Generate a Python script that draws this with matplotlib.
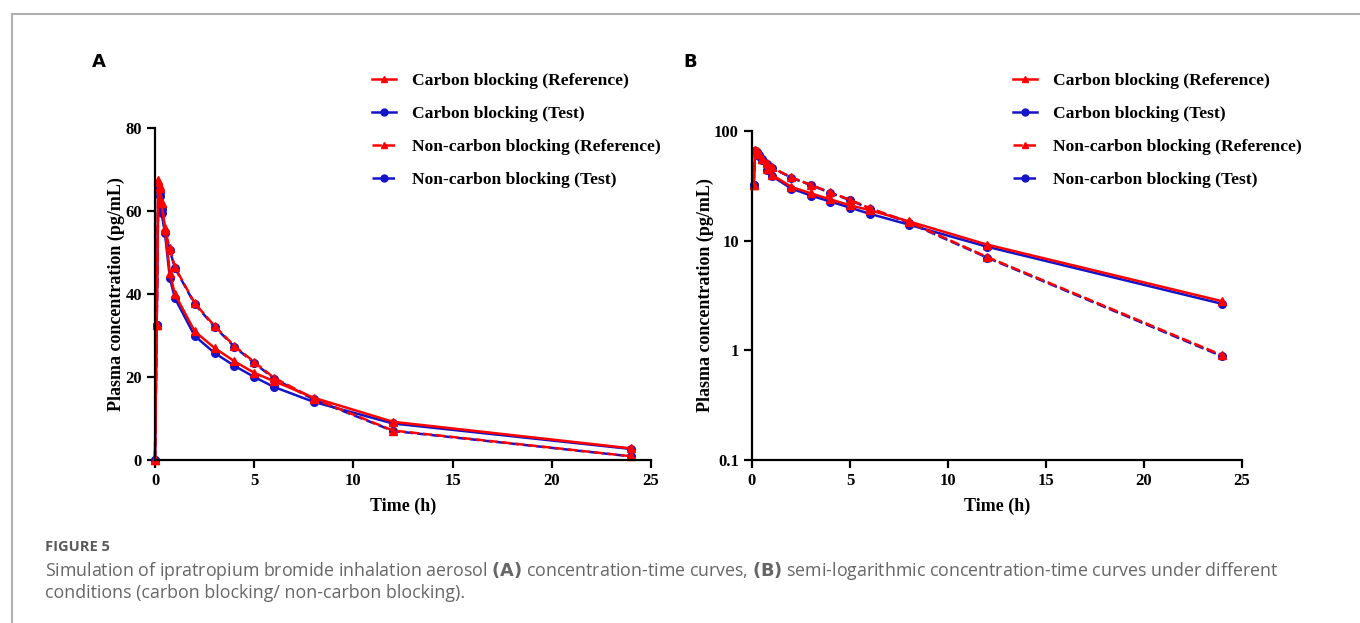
import matplotlib
matplotlib.use("Agg")
import matplotlib.pyplot as plt
from matplotlib.lines import Line2D

# 시간 (h)
time_h = [0, 0.083, 0.167, 0.25, 0.333, 0.5, 0.75, 1, 2, 3, 4, 5, 6, 8, 12, 24]

# 농도 (pg/mL)
cb_ref = [0, 32.5, 67.5, 66.0, 62.0, 56.0, 45.0, 40.0, 31.0, 27.0, 23.8, 21.0, 19.0, 15.0, 9.2, 2.8]
cb_test = [0, 32.5, 66.0, 63.5, 59.5, 54.7, 43.8, 39.0, 29.9, 25.8, 22.7, 20.0, 17.6, 14.0, 8.8, 2.65]
ncb_ref = [0, 32.5, 67.0, 65.5, 62.0, 55.5, 51.0, 46.5, 37.8, 32.3, 27.5, 23.6, 19.8, 14.8, 7.1, 0.9]
ncb_test = [0, 32.5, 66.0, 64.5, 60.5, 55.0, 50.5, 46.3, 37.6, 32.1, 27.3, 23.4, 19.6, 14.6, 7.0, 0.88]

labels = ["Carbon blocking (Reference)", "Carbon blocking (Test)",
          "Non-carbon blocking (Reference)", "Non-carbon blocking (Test)"]

RED = "#ff0000"
BLUE = "#1414c8"
serif = "Liberation Serif"

fig = plt.figure(figsize=(13.6, 6.23), dpi=100)

# 바깥 테두리 (위, 왼쪽)
fig.add_artist(Line2D([12/1360, 1], [1-14/623, 1-14/623], color="#b0b0b0", lw=1.5))
fig.add_artist(Line2D([12/1360, 12/1360], [0, 1-14/623], color="#b0b0b0", lw=1.5))

def draw(ax, log=False):
    t = time_h
    series = [(cb_test, BLUE, "o", "-"), (ncb_test, BLUE, "o", "--"),
              (ncb_ref, RED, "^", "--"), (cb_ref, RED, "^", "-")]
    for y, c, m, ls in series:
        if log:
            tt = t[1:]; yy = y[1:]
        else:
            tt = t; yy = y
        ax.plot(tt, yy, color=c, marker=m, ls=ls, lw=1.8, ms=5.5, clip_on=False)
    ax.set_xlim(0, 25)
    ax.set_xticks([0, 5, 10, 15, 20, 25])
    for s in ["top", "right"]:
        ax.spines[s].set_visible(False)
    for s in ["left", "bottom"]:
        ax.spines[s].set_linewidth(1.6)
    ax.tick_params(width=1.6, length=6, direction="out", labelsize=12)
    for lab in ax.get_xticklabels() + ax.get_yticklabels():
        lab.set_fontfamily(serif)
        lab.set_fontweight("bold")
    ax.set_xlabel("Time (h)", fontsize=13, fontweight="bold", family=serif, labelpad=6)
    ax.set_ylabel("Plasma concentration (pg/mL)", fontsize=13, fontweight="bold", family=serif, labelpad=0)

axA = fig.add_axes([155/1360, 1-460/623, 496/1360, 332/623])
axA.set_ylim(0, 80)
axA.set_yticks([0, 20, 40, 60, 80])
draw(axA)

axB = fig.add_axes([752/1360, 1-460/623, 490/1360, 329/623])
axB.set_yscale("log")
axB.set_ylim(0.1, 100)
axB.set_yticks([0.1, 1, 10, 100])
axB.set_yticklabels(["0.1", "1", "10", "100"])
axB.minorticks_off()
draw(axB, log=True)

handles = [Line2D([], [], color=RED, marker="^", ls="-", lw=1.8, ms=5),
           Line2D([], [], color=BLUE, marker="o", ls="-", lw=1.8, ms=5),
           Line2D([], [], color=RED, marker="^", ls="--", lw=1.8, ms=5),
           Line2D([], [], color=BLUE, marker="o", ls="--", lw=1.8, ms=5)]

for x0 in [356/1360, 997/1360]:
    fig.legend(handles, labels, loc="upper left", bbox_to_anchor=(x0, 1-57/623),
               frameon=False, handlelength=1.4, handletextpad=0.9, labelspacing=0.95,
               prop={"family": serif, "weight": "bold", "size": 12.6})

fig.text(92/1360, 1-62/623, "A", fontsize=13, fontweight="bold", ha="left", va="center")
fig.text(683/1360, 1-62/623, "B", fontsize=13, fontweight="bold", ha="left", va="center")

# 캡션
gray = "#666666"
fig.text(45/1360, 1-547/623, "FIGURE 5", fontsize=10.5, fontweight="bold", color="#5a5a5a",
         family="Open Sans", va="center")
line1 = ("Simulation of ipratropium bromide inhalation aerosol $\\bf{(A)}$ concentration-time curves, "
         "$\\bf{(B)}$ semi-logarithmic concentration-time curves under different")
fig.text(45/1360, 1-571/623, line1, fontsize=12.8, color=gray, family="Open Sans", va="center")
fig.text(45/1360, 1-593/623, "conditions (carbon blocking/ non-carbon blocking).", fontsize=12.8,
         color=gray, family="Open Sans", va="center")

fig.savefig("out.png", dpi=100)
